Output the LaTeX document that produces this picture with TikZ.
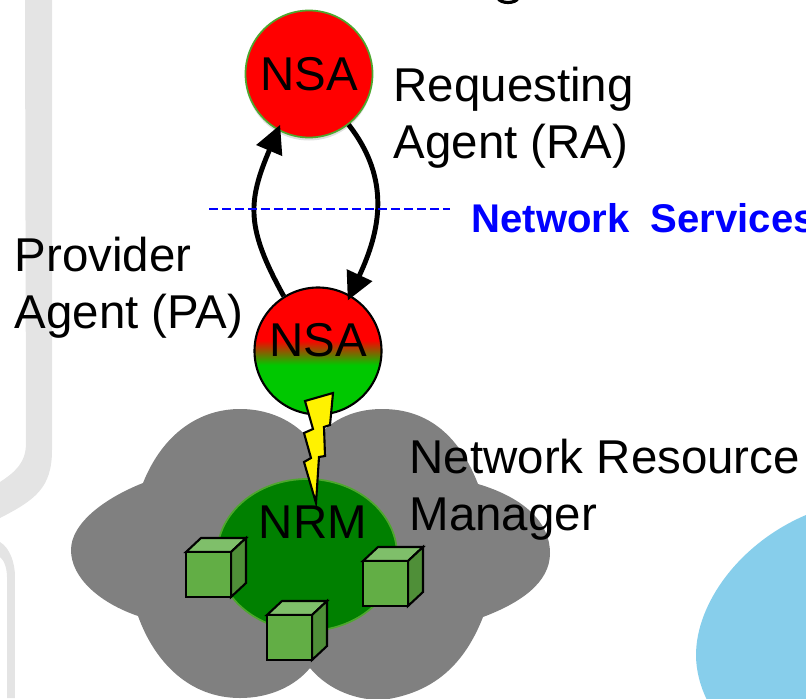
\documentclass[tikz,border=0pt]{standalone}
\usepackage{fontspec}
\setmainfont{Liberation Sans}
\usetikzlibrary{arrows.meta,shadows,shapes.geometric}

\definecolor{nsagreen}{RGB}{0,200,0}
\definecolor{bandgray}{RGB}{228,228,228}
\definecolor{cloudgray}{RGB}{128,128,128}
\definecolor{nrmgreen}{RGB}{0,128,0}
\definecolor{rimgreen}{RGB}{78,167,46}
\definecolor{cubefront}{RGB}{98,174,69}
\definecolor{cubetop}{RGB}{127,191,106}
\definecolor{cubeside}{RGB}{79,143,56}
\definecolor{lakeblue}{RGB}{135,206,235}
\pgfdeclareverticalshading{nsashade}{100bp}{
    color(0bp)=(nsagreen); color(44.5bp)=(nsagreen); color(54.3bp)=(red); color(100bp)=(red)}

\tikzset{
    agent/.style={circle, minimum size=1.27cm, inner sep=0pt, font=\fontsize{13.5}{16}\selectfont},
    etiqueta/.style={anchor=north west, align=left, inner sep=0pt, font=\fontsize{13.5}{16.2}\selectfont},
    flecha/.style={line width=1.4pt, -{Triangle[length=0.28cm, width=0.27cm]}, shorten >=-0.06cm},
    cara/.style={draw=black, line width=0.6pt, line join=miter}
}

\begin{document}
\begin{tikzpicture}
    \useasboundingbox (0,0) rectangle (8.06,6.98);
    \clip (0,0) rectangle (8.06,6.98);

    % bandas grises del fondo
    \fill[bandgray] (0.25,7) -- (0.52,7) -- (0.52,2.48) .. controls (0.52,2.1) and (0.35,1.98) .. (0,1.8) -- (0,2.16) .. controls (0.15,2.26) and (0.26,2.35) .. (0.26,2.55) -- cycle;
    \fill[bandgray] (0,1.56) .. controls (0.1,1.5) and (0.15,1.35) .. (0.15,1.21) -- (0.15,0) -- (0.07,0) -- (0.07,1.21) .. controls (0.07,1.3) and (0.04,1.38) .. (0,1.41) -- cycle;

    % elipse celeste
    \fill[lakeblue] (8.06,1.83) .. controls (7.4,1.55) and (6.96,0.95) .. (6.96,0.43) .. controls (6.96,0.28) and (7,0.12) .. (7.07,-0.02) -- (8.06,-0.02) -- cycle;

    % nube
    \fill[cloudgray] (1.43,2.15) .. controls (1.63,2.65) and (2,2.89) .. (2.4,2.89)
        .. controls (2.75,2.89) and (3,2.72) .. (3.12,2.55)
        .. controls (3.27,2.75) and (3.5,2.89) .. (3.82,2.89)
        .. controls (4.3,2.89) and (4.6,2.6) .. (4.78,2.14)
        .. controls (5.25,2) and (5.5,1.75) .. (5.5,1.45)
        .. controls (5.5,1.15) and (5.2,0.95) .. (4.83,0.81)
        .. controls (4.65,0.35) and (4.35,0.05) .. (3.82,-0.02)
        .. controls (3.5,-0.02) and (3.25,0.12) .. (3.1,0.3)
        .. controls (2.95,0.12) and (2.7,0) .. (2.4,0)
        .. controls (1.9,0) and (1.55,0.35) .. (1.38,0.82)
        .. controls (1,0.95) and (0.71,1.2) .. (0.71,1.48)
        .. controls (0.71,1.75) and (1.05,2) .. (1.43,2.15) -- cycle;

    % NRM
    \node[ellipse, draw=rimgreen, fill=nrmgreen, line width=0.5pt, minimum width=1.8cm, minimum height=1.52cm, inner sep=0pt,
        drop shadow={shadow xshift=0pt, shadow yshift=-0.03cm, opacity=0.25}] (nrmarea) at (3.07,1.43) {};
    \node[font=\fontsize{13.5}{16}\selectfont] (nrm) at (3.13,1.76) {NRM};

    % agentes
    \node[agent, fill=red, draw=rimgreen, line width=0.5pt,
        drop shadow={shadow xshift=0pt, shadow yshift=-0.03cm, opacity=0.25}] (ra) at (3.09,6.24) {NSA};
    \node[agent, shading=nsashade, draw=black, line width=0.6pt] (pa) at (3.18,3.47) {};
    \node[font=\fontsize{13.5}{16}\selectfont] (paname) at (3.18,3.58) {NSA};

    % flechas
    \draw[flecha] (pa.122) to[out=119, in=247, looseness=1.2] (ra.241);
    \draw[flecha] (ra.308) to[out=-52, in=65, looseness=1.05] (pa.60);

    % linea punteada
    \coordinate (lineaizq) at (2.09,4.89);
    \coordinate (lineader) at (4.5,4.89);
    \draw[blue, line width=0.5pt, dash pattern=on 2.6pt off 1.1pt] (lineaizq) -- (lineader);

    % rayo
    \draw[fill=yellow, line width=0.6pt, line join=miter] (3.05,2.97) -- (3.33,3.05) -- (3.3,2.73) -- (3.24,2.71) -- (3.25,2.42) -- (3.19,2.41) -- (3.16,1.95) -- (3.04,2.36) -- (3.11,2.4) -- (3.04,2.65) -- (3.13,2.69) -- cycle;

    % cubos
    \foreach \x/\y in {1.86/1.01, 3.63/0.92, 2.67/0.38} {
        \filldraw[cara, fill=cubetop] (\x,\y+0.45) -- ++(0.15,0.14) -- ++(0.45,0) -- ++(-0.15,-0.14) -- cycle;
        \filldraw[cara, fill=cubeside] (\x+0.45,\y) -- ++(0.15,0.14) -- ++(0,0.45) -- ++(-0.15,-0.14) -- cycle;
        \filldraw[cara, fill=cubefront] (\x,\y) rectangle ++(0.45,0.45);
    }

    % resto de una letra arriba
    \draw[line width=0.9pt] (4.98,7) .. controls (5,6.94) and (5.16,6.94) .. (5.18,7);

    % leyendas
    \node[etiqueta] (ralabel) at (3.93,6.32) {Requesting\\Agent (RA)};
    \node[etiqueta] (palabel) at (0.14,4.62) {Provider\\Agent (PA)};
    \node[etiqueta] (nrmlabel) at (4.09,2.6) {Network Resource\\Manager};
    \node[anchor=base west, inner sep=0pt, text=blue, font=\bfseries\fontsize{11.4}{14}\selectfont] (nslabel) at (4.71,4.66) {Network\hspace{0.1cm} Services};
\end{tikzpicture}
\end{document}
